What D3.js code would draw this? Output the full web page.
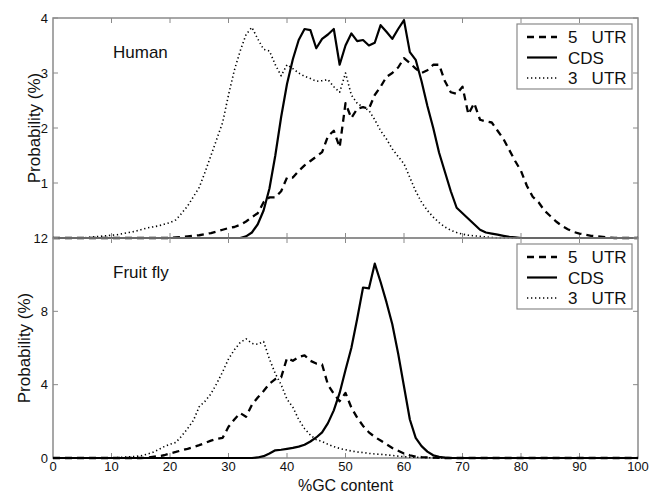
<!DOCTYPE html>
<html>
<head>
<meta charset="utf-8">
<script src="https://cdn.jsdelivr.net/npm/d3@7"></script>
<style>
  body { margin: 0; background: #fff; }
  svg text { font-family: "Liberation Sans", Arial, sans-serif; fill: #111; }
</style>
</head>
<body>
<svg id="chart" width="649" height="493"></svg>
<script>
// %GC content, 0..100 in steps of 1
const gcContent = d3.range(0, 101);

const xTicks = [0, 10, 20, 30, 40, 50, 60, 70, 80, 90, 100];
const humanTicks = [1, 2, 3, 4];
const flyTicks = [0, 4, 8, 12];
const seriesNames = ["5   UTR", "CDS", "3   UTR"];

const humanUtr5 = [
  0, 0, 0, 0, 0, 0, 0, 0, 0, 0,
  0, 0, 0, 0, 0, 0, 0, 0, 0, 0,
  0, 0.01, 0.02, 0.03, 0.04, 0.05, 0.07, 0.09, 0.12, 0.15,
  0.18, 0.2, 0.24, 0.3, 0.38, 0.45, 0.65, 0.74, 0.74, 0.85,
  1.1, 1.1, 1.22, 1.32, 1.4, 1.48, 1.56, 1.85, 1.95, 1.65,
  2.45, 2.18, 2.35, 2.38, 2.35, 2.6, 2.75, 2.93, 3.0, 3.1,
  3.27, 3.18, 3.08, 3.0, 3.05, 3.15, 3.15, 2.85, 2.65, 2.62,
  2.75, 2.25, 2.45, 2.15, 2.12, 2.1, 1.95, 1.8, 1.6, 1.4,
  1.22, 0.95, 0.75, 0.65, 0.5, 0.4, 0.3, 0.22, 0.16, 0.11,
  0.08, 0.06, 0.04, 0.03, 0.02, 0.01, 0, 0, 0, 0,
  0
];
const humanCds = [
  0, 0, 0, 0, 0, 0, 0, 0, 0, 0,
  0, 0, 0, 0, 0, 0, 0, 0, 0, 0,
  0, 0, 0, 0, 0, 0, 0, 0, 0, 0,
  0, 0, 0, 0.03, 0.1, 0.25, 0.5, 0.9, 1.5, 2.2,
  2.8, 3.25, 3.6, 3.8, 3.78, 3.45, 3.62, 3.7, 3.8, 3.15,
  3.5, 3.72, 3.58, 3.6, 3.5, 3.55, 3.87, 3.75, 3.62, 3.8,
  3.96, 3.38, 3.24, 2.85, 2.4, 2.0, 1.55, 1.2, 0.85, 0.55,
  0.45, 0.35, 0.25, 0.15, 0.1, 0.08, 0.06, 0.04, 0.02, 0.01,
  0, 0, 0, 0, 0, 0, 0, 0, 0, 0,
  0, 0, 0, 0, 0, 0, 0, 0, 0, 0,
  0
];
const humanUtr3 = [
  0, 0, 0, 0, 0, 0, 0.01, 0.02, 0.03, 0.04,
  0.05, 0.06, 0.08, 0.1, 0.12, 0.15, 0.18, 0.2, 0.22, 0.25,
  0.28, 0.33, 0.45, 0.58, 0.75, 0.92, 1.2, 1.5, 1.8, 2.1,
  2.6, 3.05, 3.4, 3.7, 3.83, 3.62, 3.43, 3.4, 3.15, 2.95,
  3.15, 3.08, 3.0, 2.94, 2.9, 2.85, 2.86, 2.88, 2.75, 2.65,
  3.0, 2.6, 2.45, 2.38, 2.32, 2.15, 1.95, 1.8, 1.62, 1.48,
  1.35, 1.1, 0.85, 0.65, 0.5, 0.38, 0.28, 0.2, 0.14, 0.1,
  0.07, 0.05, 0.04, 0.03, 0.02, 0.01, 0, 0, 0, 0,
  0, 0, 0, 0, 0, 0, 0, 0, 0, 0,
  0, 0, 0, 0, 0, 0, 0, 0, 0, 0,
  0
];

const flyUtr5 = [
  0, 0, 0, 0, 0, 0, 0, 0, 0, 0,
  0, 0, 0, 0, 0, 0, 0.02, 0.06, 0.1, 0.15,
  0.25, 0.33, 0.42, 0.5, 0.6, 0.7, 0.82, 0.95, 1.05, 1.1,
  1.7, 2.1, 2.45, 2.25, 2.9, 3.3, 3.65, 4.05, 4.3, 4.4,
  5.45, 5.3, 5.5, 5.6, 5.3, 5.15, 5.1, 4.0, 3.5, 3.1,
  3.55, 2.75, 2.2, 1.75, 1.4, 1.15, 0.95, 0.75, 0.55, 0.4,
  0.25, 0.15, 0.08, 0.05, 0.03, 0.02, 0.01, 0, 0, 0,
  0, 0, 0, 0, 0, 0, 0, 0, 0, 0,
  0, 0, 0, 0, 0, 0, 0, 0, 0, 0,
  0, 0, 0, 0, 0, 0, 0, 0, 0, 0,
  0
];
const flyCds = [
  0, 0, 0, 0, 0, 0, 0, 0, 0, 0,
  0, 0, 0, 0, 0, 0, 0, 0, 0, 0,
  0, 0, 0, 0, 0, 0, 0, 0, 0, 0,
  0, 0, 0, 0, 0, 0.03, 0.1, 0.25, 0.42, 0.45,
  0.5, 0.55, 0.62, 0.72, 0.9, 1.12, 1.4, 1.9, 2.6, 3.55,
  4.8, 6.0, 7.6, 9.3, 9.25, 10.6, 9.6, 8.5, 7.3, 5.7,
  3.9, 2.1, 1.1, 0.65, 0.35, 0.15, 0.06, 0.02, 0, 0,
  0, 0, 0, 0, 0, 0, 0, 0, 0, 0,
  0, 0, 0, 0, 0, 0, 0, 0, 0, 0,
  0, 0, 0, 0, 0, 0, 0, 0, 0, 0,
  0
];
const flyUtr3 = [
  0, 0, 0, 0, 0, 0, 0, 0, 0, 0,
  0.01, 0.02, 0.04, 0.06, 0.08, 0.12, 0.2, 0.3, 0.45, 0.62,
  0.75, 0.85, 1.2, 1.6, 2.05, 2.8, 3.1, 3.5, 4.07, 4.7,
  5.4, 5.9, 6.3, 6.5, 6.25, 6.2, 6.35, 5.4, 4.6, 4.0,
  3.2, 2.77, 2.1, 1.6, 1.25, 1.0, 0.9, 0.75, 0.62, 0.52,
  0.45, 0.38, 0.33, 0.3, 0.25, 0.22, 0.2, 0.17, 0.14, 0.1,
  0.07, 0.05, 0.04, 0.03, 0.02, 0.01, 0, 0, 0, 0,
  0, 0, 0, 0, 0, 0, 0, 0, 0, 0,
  0, 0, 0, 0, 0, 0, 0, 0, 0, 0,
  0, 0, 0, 0, 0, 0, 0, 0, 0, 0,
  0
];

const lineStyles = [
  { dash: "7,5", width: 2.3 },    // 5' UTR
  { dash: null, width: 2.2 },     // CDS
  { dash: "1.3,2.7", width: 1.6 } // 3' UTR
];

const frameColor = "#8a8a8a";
const svg = d3.select("#chart");

const left = 53, right = 638;
const xScale = d3.scaleLinear().domain([0, 100]).range([left, right]);

function drawPanel(cfg) {
  const yScale = d3.scaleLinear().domain([0, cfg.yMax]).range([cfg.bottom, cfg.top]);
  const g = svg.append("g");

  // frame
  g.append("rect")
    .attr("x", left).attr("y", cfg.top)
    .attr("width", right - left).attr("height", cfg.bottom - cfg.top)
    .attr("fill", "none")
    .attr("stroke", frameColor)
    .attr("stroke-width", 1.5);

  // inward ticks on all four sides
  const tickLen = 5;
  g.selectAll(".xt-bottom").data(xTicks.slice(1, -1)).join("line")
    .attr("x1", (d) => xScale(d)).attr("x2", (d) => xScale(d))
    .attr("y1", cfg.bottom).attr("y2", cfg.bottom - tickLen)
    .attr("stroke", frameColor);
  g.selectAll(".xt-top").data(xTicks.slice(1, -1)).join("line")
    .attr("x1", (d) => xScale(d)).attr("x2", (d) => xScale(d))
    .attr("y1", cfg.top).attr("y2", cfg.top + tickLen)
    .attr("stroke", frameColor);
  g.selectAll(".yt-left").data(cfg.ticks).join("line")
    .attr("x1", left).attr("x2", left + tickLen)
    .attr("y1", (d) => yScale(d)).attr("y2", (d) => yScale(d))
    .attr("stroke", frameColor);
  g.selectAll(".yt-right").data(cfg.ticks).join("line")
    .attr("x1", right).attr("x2", right - tickLen)
    .attr("y1", (d) => yScale(d)).attr("y2", (d) => yScale(d))
    .attr("stroke", frameColor);

  // y tick labels
  g.selectAll(".ylab").data(cfg.ticks).join("text")
    .attr("x", left - 5)
    .attr("y", (d) => yScale(d))
    .attr("dy", "0.35em")
    .attr("text-anchor", "end")
    .attr("font-size", 13)
    .text((d) => d);

  // y axis title
  g.append("text")
    .attr("transform", `translate(${cfg.titleX},${(cfg.top + cfg.bottom) / 2}) rotate(-90)`)
    .attr("text-anchor", "middle")
    .attr("font-size", 17)
    .text("Probability (%)");

  // curves
  const line = d3.line()
    .x((d, i) => xScale(gcContent[i]))
    .y((d) => yScale(d));
  cfg.series.forEach((s, i) => {
    g.append("path")
      .datum(s)
      .attr("d", line)
      .attr("fill", "none")
      .attr("stroke", "#000")
      .attr("stroke-width", lineStyles[i].width)
      .attr("stroke-dasharray", lineStyles[i].dash)
      .attr("stroke-linejoin", "round");
  });

  // panel name
  g.append("text")
    .attr("x", 113).attr("y", cfg.top + 40)
    .attr("font-size", 17)
    .text(cfg.name);

  // legend
  const lg = g.append("g").attr("transform", `translate(517,${cfg.top + 6})`);
  lg.append("rect")
    .attr("width", 115).attr("height", 65)
    .attr("fill", "#fff")
    .attr("stroke", frameColor)
    .attr("stroke-width", 1.2);
  seriesNames.forEach((name, i) => {
    const yy = 13 + i * 20.5;
    lg.append("line")
      .attr("x1", 10).attr("x2", 40)
      .attr("y1", yy).attr("y2", yy)
      .attr("stroke", "#000")
      .attr("stroke-width", lineStyles[i].width)
      .attr("stroke-dasharray", lineStyles[i].dash);
    lg.append("text")
      .attr("x", 51).attr("y", yy)
      .attr("dy", "0.36em")
      .attr("font-size", 17)
      .style("white-space", "pre")
      .text(name);
  });
}

drawPanel({
  name: "Human", top: 18, bottom: 238, yMax: 4,
  ticks: humanTicks, titleX: 40,
  series: [humanUtr5, humanCds, humanUtr3]
});
drawPanel({
  name: "Fruit fly", top: 238, bottom: 458, yMax: 12,
  ticks: flyTicks, titleX: 30,
  series: [flyUtr5, flyCds, flyUtr3]
});

// x tick labels (bottom panel only)
svg.selectAll(".xlab").data(xTicks).join("text")
  .attr("x", (d) => xScale(d))
  .attr("y", 471)
  .attr("text-anchor", "middle")
  .attr("font-size", 13)
  .text((d) => d);

svg.append("text")
  .attr("x", (left + right) / 2)
  .attr("y", 491)
  .attr("text-anchor", "middle")
  .attr("font-size", 16)
  .text("%GC content");
</script>
</body>
</html>
